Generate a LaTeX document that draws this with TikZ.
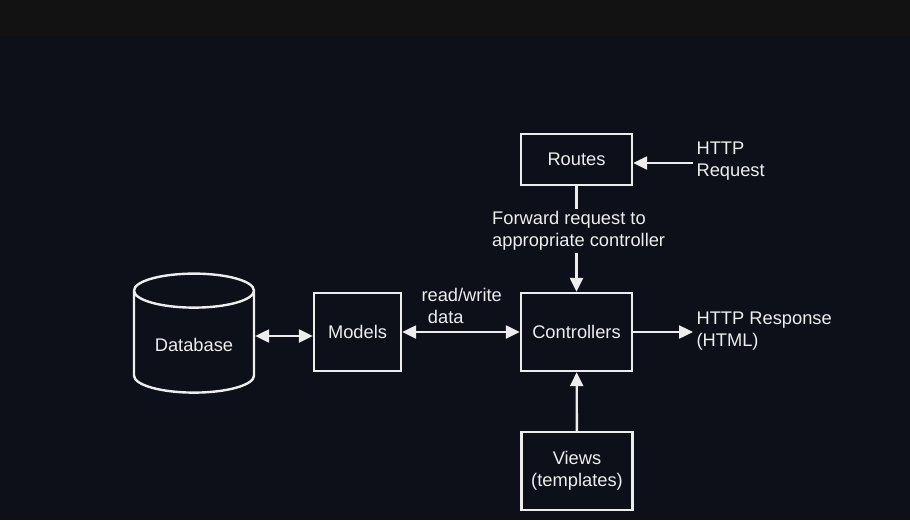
\documentclass[tikz,border=0pt]{standalone}
\usepackage{fontspec}
\setmainfont{Liberation Sans}
\usetikzlibrary{arrows.meta}
\usetikzlibrary{shapes.geometric}
\definecolor{bgdark}{HTML}{0E1019}
\definecolor{bgband}{HTML}{121212}
\definecolor{ink}{HTML}{EDEDED}

\begin{document}
\begin{tikzpicture}[x=1pt, y=-1pt, >={Triangle[length=14pt, width=13pt]},
  font=\fontsize{18.3}{22}\selectfont,
  every node/.style={text=ink},
  box/.style={draw=ink, line width=2.4pt, minimum width=111pt, minimum height=51pt},
  link/.style={draw=ink, line width=2.4pt}]
\fill[bgdark] (0,0) rectangle (910,520);
\fill[bgband] (0,0) rectangle (910,36);
\useasboundingbox (0,0) rectangle (910,520);

\node[box] (routes) at (576.5,159.5) {Routes};
\node[box, minimum height=78pt] (ctrl) at (576.5,332) {Controllers};
\node[box, minimum height=78pt, align=center] (views) at (577,471) {Views\\(templates)};
\node[box, minimum width=87pt, minimum height=78pt] (models) at (357.5,332) {Models};
\node[cylinder, shape border rotate=90, draw=ink, line width=2.4pt, aspect=0.4,
  minimum width=120pt, minimum height=119pt] (db) at (194,345) {\raisebox{-1.5pt}{Database}};

\node[anchor=west, align=left] (req) at (693,161) {HTTP\\Request};
\node[anchor=west, align=left] (resp) at (693,331) {HTTP Response\\(HTML)};
\node[anchor=west, align=left] (rw) at (418,305.5) {read/write\\\hspace{0.35em}data};
\node[anchor=west, align=left, inner sep=2pt] (fwd) at (490,231) {Forward request to\\appropriate controller};

\draw[link, ->] ([yshift=-2pt]req.west) -- ([yshift=-2pt]req.west -| routes.east);
\draw[link] (routes) -- (fwd.north -| routes);
\draw[link, ->] (fwd.south -| ctrl) -- (ctrl);
\draw[link, <->] ([yshift=9pt]db.east) -- ([yshift=9pt]db.east -| models.west);
\draw[link, <->] (models) -- (ctrl);
\draw[link, ->] (ctrl) -- (ctrl -| resp.west);
\draw[link, ->] (views) -- (ctrl);

\end{tikzpicture}
\end{document}
